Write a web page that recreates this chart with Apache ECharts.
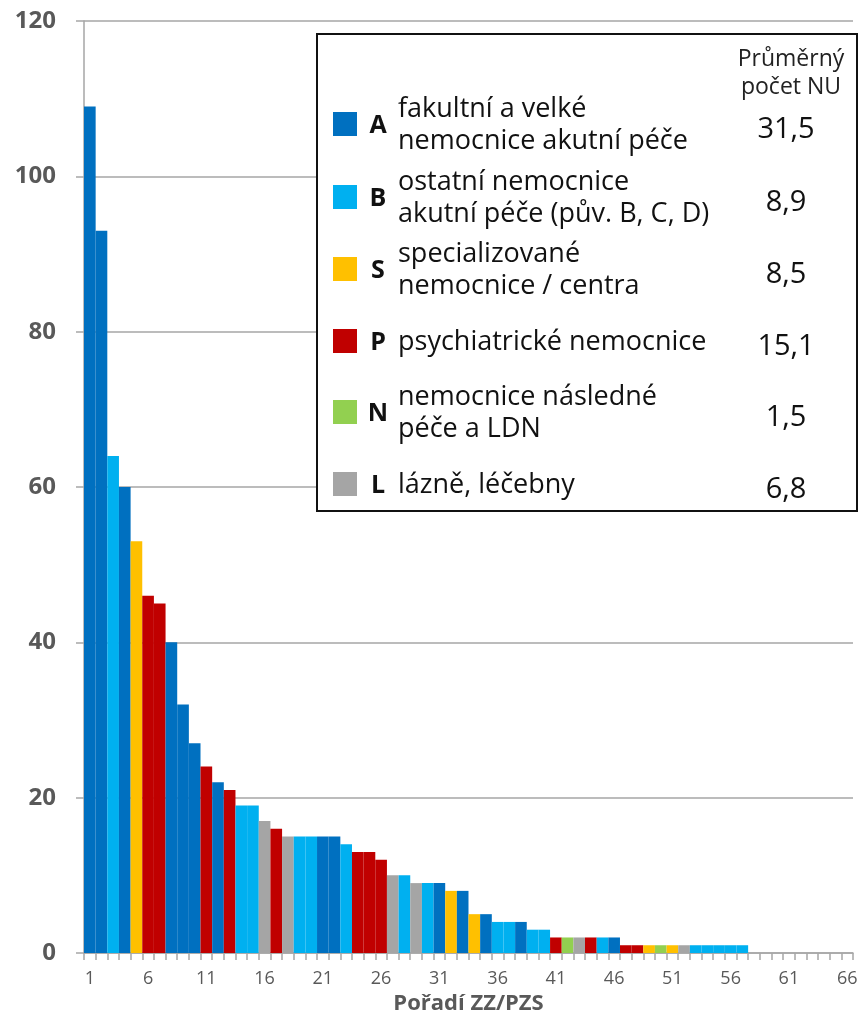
<!DOCTYPE html>
<html>
<head>
<meta charset="utf-8">
<script src="https://cdn.jsdelivr.net/npm/echarts@6/dist/echarts.min.js"></script>
<style>
  html, body { margin: 0; padding: 0; background: #fff; }
  #chart { width: 860px; height: 1016px; }
</style>
</head>
<body>
<div id="chart"></div>
<script>
  // pořadí ZZ/PZS 1..66
  const categories = Array.from({ length: 66 }, (_, i) => String(i + 1))

  // počet NU pro každé zařízení (seřazeno)
  const values = [
    109, 93, 64, 60, 53, 46, 45, 40, 32, 27,
    24, 22, 21, 19, 19, 17, 16, 15, 15, 15,
    15, 15, 14, 13, 13, 12, 10, 10, 9, 9,
    9, 8, 8, 5, 5, 4, 4, 4, 3, 3,
    2, 2, 2, 2, 2, 2, 1, 1, 1, 1,
    1, 1, 1, 1, 1, 1, 1
  ]

  // typ zařízení pro každý sloupec
  const types = [
    'A', 'A', 'B', 'A', 'S', 'P', 'P', 'A', 'A', 'A',
    'P', 'A', 'P', 'B', 'B', 'L', 'P', 'L', 'B', 'B',
    'A', 'A', 'B', 'P', 'P', 'P', 'L', 'B', 'L', 'B',
    'A', 'S', 'A', 'S', 'A', 'B', 'B', 'A', 'B', 'B',
    'P', 'N', 'L', 'P', 'B', 'A', 'P', 'P', 'S', 'N',
    'S', 'L', 'B', 'B', 'B', 'B', 'B'
  ]

  // legenda
  const groupKeys = ['A', 'B', 'S', 'P', 'N', 'L']
  const groupColors = ['#0070C0', '#00B0F0', '#FFC000', '#C00000', '#92D050', '#A5A5A5']
  const groupNames = [
    ['fakultní a velké', 'nemocnice akutní péče'],
    ['ostatní nemocnice', 'akutní péče (pův. B, C, D)'],
    ['specializované', 'nemocnice / centra'],
    ['psychiatrické nemocnice'],
    ['nemocnice následné', 'péče a LDN'],
    ['lázně, léčebny']
  ]
  const groupAvg = ['31,5', '8,9', '8,5', '15,1', '1,5', '6,8']

  const yTicks = { min: 0, max: 120, interval: 20 }

  const colorOf = key => groupColors[groupKeys.indexOf(key)]

  const barData = categories.map((c, i) =>
    i < values.length
      ? { value: values[i], itemStyle: { color: colorOf(types[i]) } }
      : null
  )

  const FONT = '"Open Sans", "Noto Sans", sans-serif'
  const AXIS_GRAY = '#A6A6A6'
  const LABEL_GRAY = '#595959'

  // legenda jako grafické prvky
  const legendEls = []
  const boxLeft = 317
  const boxTop = 34
  legendEls.push({
    type: 'rect',
    shape: { x: boxLeft, y: boxTop, width: 540, height: 477 },
    style: { fill: '#fff', stroke: '#111', lineWidth: 2 },
    z: 100
  })
  legendEls.push({
    type: 'text',
    x: 791, y: 73, z: 101,
    style: {
      text: 'Průměrný\npočet NU', fill: '#222', font: '23px ' + FONT,
      align: 'center', verticalAlign: 'middle', lineHeight: 28
    }
  })
  const rowCenters = [124, 197, 269, 341, 412, 484]
  groupKeys.forEach((key, i) => {
    const cy = rowCenters[i]
    legendEls.push({
      type: 'rect', z: 101,
      shape: { x: 333, y: cy - 12, width: 24, height: 24 },
      style: { fill: groupColors[i] }
    })
    legendEls.push({
      type: 'text', x: 378, y: cy + 2, z: 101,
      style: {
        text: key, fill: '#111', font: 'bold 25px ' + FONT,
        align: 'center', verticalAlign: 'middle'
      }
    })
    legendEls.push({
      type: 'text', x: 398, y: cy + 1, z: 101,
      style: {
        text: groupNames[i].join('\n'), fill: '#111', font: '27px ' + FONT,
        align: 'left', verticalAlign: 'middle', lineHeight: 32
      }
    })
    legendEls.push({
      type: 'text', x: 786, y: cy + 6, z: 101,
      style: {
        text: groupAvg[i], fill: '#111', font: '29px ' + FONT,
        align: 'center', verticalAlign: 'middle'
      }
    })
  })

  const chart = echarts.init(document.getElementById('chart'))
  const option = {
    animation: false,
    backgroundColor: '#fff',
    grid: {
      left: 84,
      right: 7,
      top: 21,
      bottom: 63,
      containLabel: false,
      outerBoundsMode: 'none'
    },
    xAxis: {
      type: 'category',
      data: categories,
      name: 'Pořadí ZZ/PZS',
      nameLocation: 'middle',
      nameGap: 40,
      nameTextStyle: {
        color: LABEL_GRAY,
        fontFamily: FONT,
        fontSize: 22,
        fontWeight: 'bold',
        verticalAlign: 'top'
      },
      axisLine: { lineStyle: { color: AXIS_GRAY, width: 1.5 } },
      axisTick: {
        show: true,
        interval: 0,
        length: 7,
        lineStyle: { color: AXIS_GRAY, width: 1.5 }
      },
      axisLabel: {
        interval: 4,
        margin: 17,
        color: LABEL_GRAY,
        fontFamily: FONT,
        fontSize: 18
      },
      splitLine: { show: false }
    },
    yAxis: {
      type: 'value',
      min: yTicks.min,
      max: yTicks.max,
      interval: yTicks.interval,
      axisLine: { show: true, lineStyle: { color: AXIS_GRAY, width: 1.5 } },
      axisTick: { show: true, length: 8, lineStyle: { color: AXIS_GRAY, width: 1.5 } },
      axisLabel: {
        margin: 28,
        color: LABEL_GRAY,
        fontFamily: FONT,
        fontSize: 24,
        fontWeight: 'bold'
      },
      splitLine: { lineStyle: { color: AXIS_GRAY, width: 1.5 } }
    },
    series: [
      {
        type: 'bar',
        data: barData,
        barCategoryGap: '0%',
        barGap: '0%'
      }
    ],
    graphic: legendEls
  }
  chart.setOption(option)
</script>
</body>
</html>
